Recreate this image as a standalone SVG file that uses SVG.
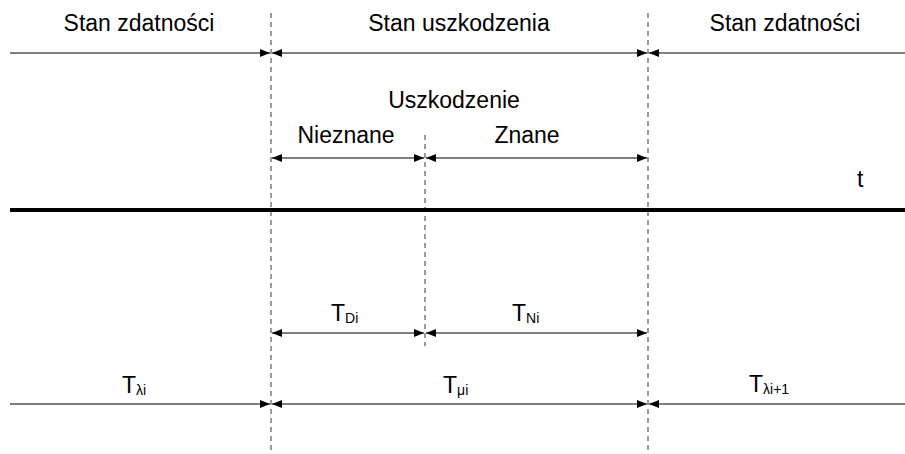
<svg xmlns="http://www.w3.org/2000/svg" width="905" height="454" viewBox="0 0 905 454">
<defs>
<marker id="ah" viewBox="0 0 10 10" refX="10" refY="5" markerWidth="10" markerHeight="10" markerUnits="userSpaceOnUse" orient="auto-start-reverse">
<path d="M0,1 L10,5 L0,9 z" fill="#000"/>
</marker>
<style>
text{font-family:"Liberation Sans",Arial,sans-serif;font-size:23px;fill:#000}
.sub{font-size:14px}
.dash{stroke:#666;stroke-width:1.3;stroke-dasharray:5,4;fill:none}
.dim{stroke:#000;stroke-width:1.2;fill:none}
</style>
</defs>
<rect width="905" height="454" fill="#fff"/>
<g id="guides">
<line class="dash" x1="271" y1="13" x2="271" y2="454"/>
<line class="dash" x1="648" y1="13" x2="648" y2="454"/>
<line class="dash" x1="425" y1="135" x2="425" y2="346"/>
</g>
<g id="axis">
<line x1="10" y1="210" x2="905" y2="210" stroke="#000" stroke-width="4"/>
<text x="857" y="187">t</text>
</g>
<g id="connectors">
<line class="dim" x1="10" y1="53" x2="270" y2="53" marker-end="url(#ah)"/>
<line class="dim" x1="272" y1="53" x2="647" y2="53" marker-start="url(#ah)" marker-end="url(#ah)"/>
<line class="dim" x1="905" y1="53" x2="649" y2="53" marker-end="url(#ah)"/>
<line class="dim" x1="272" y1="158" x2="424" y2="158" marker-start="url(#ah)" marker-end="url(#ah)"/>
<line class="dim" x1="426" y1="158" x2="647" y2="158" marker-start="url(#ah)" marker-end="url(#ah)"/>
<line class="dim" x1="272" y1="333" x2="424" y2="333" marker-start="url(#ah)" marker-end="url(#ah)"/>
<line class="dim" x1="426" y1="333" x2="647" y2="333" marker-start="url(#ah)" marker-end="url(#ah)"/>
<line class="dim" x1="10" y1="404" x2="270" y2="404" marker-end="url(#ah)"/>
<line class="dim" x1="272" y1="404" x2="647" y2="404" marker-start="url(#ah)" marker-end="url(#ah)"/>
<line class="dim" x1="905" y1="404" x2="649" y2="404" marker-end="url(#ah)"/>
</g>
<g id="labels-top">
<text x="139" y="31" text-anchor="middle">Stan zdatności</text>
<text x="459" y="31" text-anchor="middle">Stan uszkodzenia</text>
<text x="785" y="31" text-anchor="middle">Stan zdatności</text>
<text x="454" y="108" text-anchor="middle">Uszkodzenie</text>
<text x="346" y="143" text-anchor="middle">Nieznane</text>
<text x="527" y="143" text-anchor="middle">Znane</text>
</g>
<g id="labels-bottom">
<text x="331" y="321">T<tspan class="sub" dy="2">Di</tspan></text>
<text x="512" y="321">T<tspan class="sub" dy="2">Ni</tspan></text>
<text x="122" y="393">T<tspan class="sub" dy="2">λi</tspan></text>
<text x="443" y="393">T<tspan class="sub" dy="2">μi</tspan></text>
<text x="749" y="392">T<tspan class="sub" dy="2">λi+1</tspan></text>
</g>
</svg>
